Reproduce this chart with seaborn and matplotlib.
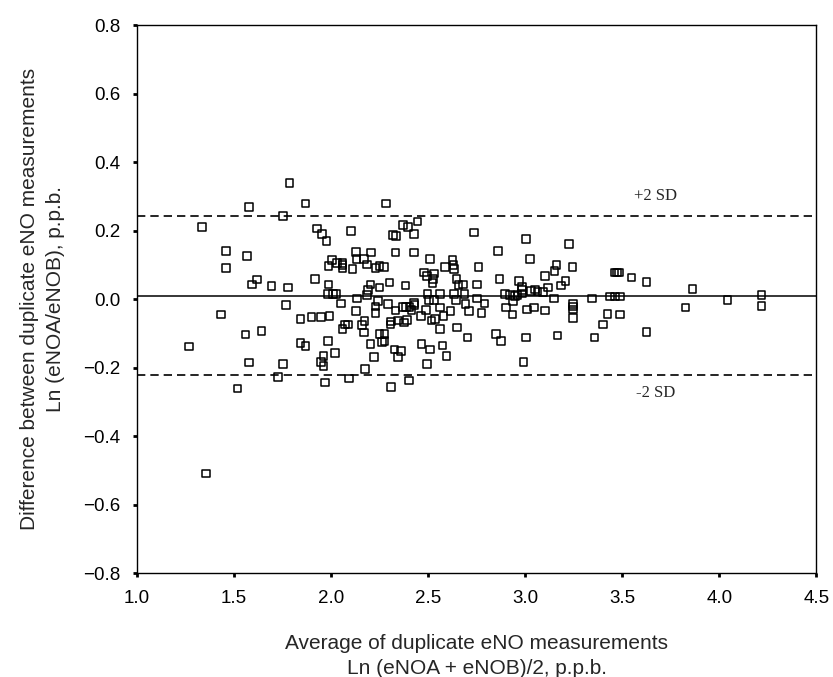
import matplotlib
matplotlib.use("Agg")
import matplotlib.pyplot as plt
import seaborn as sns
import pandas as pd

# Average of duplicate measurements (x) and difference (y)
avg_vals = [
    1.785, 1.867, 1.577, 1.751, 1.336, 1.458, 1.566, 1.458, 1.617, 1.591,
    1.692, 1.778, 1.766, 1.434, 1.842, 1.559, 1.642, 1.267, 1.842, 1.867,
    1.576, 1.751, 1.727, 1.518, 1.355,
    2.284, 1.926, 1.952, 1.977, 2.102, 2.369, 2.395, 2.446, 2.426, 2.318,
    2.335, 2.332, 2.426, 2.127, 2.207, 2.003, 1.986, 2.029, 2.059, 2.059,
    2.059, 2.131, 2.110, 2.170, 2.185, 2.228, 2.250, 2.272, 2.511, 2.477,
    2.494, 2.529, 2.525, 2.523, 2.587, 2.625, 2.630, 2.634, 2.647, 2.656,
    2.680, 1.918, 1.986, 1.983, 2.009, 2.026, 2.202, 2.191, 2.185, 2.250,
    2.301, 2.383, 2.051, 2.134, 2.242, 2.228, 2.228, 2.293, 2.332, 2.369,
    2.386, 2.404, 2.426, 2.429, 2.415, 2.497, 2.560, 2.634, 2.688, 2.505,
    2.531, 2.642, 2.693, 2.127, 2.488, 2.560, 2.616, 1.898, 1.949,
    1.991, 2.462, 2.579, 2.518, 2.536, 2.071, 2.088, 2.059, 2.173, 2.160,
    2.168, 2.310, 2.305, 2.344, 2.375, 2.392, 2.560, 2.650, 2.702, 2.250,
    2.276, 2.262, 2.276, 1.983, 2.202, 1.961, 1.949, 1.961, 2.020, 2.327,
    2.361, 2.344, 2.220, 2.466, 2.511, 2.574, 2.594, 2.493, 2.176, 2.092,
    1.969, 2.310, 2.400,
    2.736, 3.003, 3.226, 2.860, 3.025, 2.760, 3.243, 3.161, 3.150, 3.102,
    2.867, 2.969, 3.208, 3.183, 3.119, 2.752, 2.983, 2.983, 2.983, 3.030,
    3.051, 3.064, 3.093, 3.460, 3.472, 3.482, 2.897, 2.923, 2.948, 2.961,
    2.752, 2.791, 2.710, 2.774, 2.902, 2.937, 2.935, 3.008, 3.045, 3.102,
    3.148, 3.246, 3.246, 3.246, 3.246, 3.343, 3.437, 3.463, 3.489, 3.425,
    3.489, 3.400, 2.850, 2.875, 3.003, 3.167, 3.357, 2.991,
    3.547, 3.624, 3.624, 3.862, 3.826, 4.042, 4.217, 4.217,
]
diff_vals = [
    0.338, 0.279, 0.268, 0.243, 0.211, 0.141, 0.126, 0.091, 0.057, 0.043,
    0.038, 0.034, -0.018, -0.045, -0.059, -0.103, -0.094, -0.139, -0.128, -0.137,
    -0.185, -0.189, -0.228, -0.261, -0.510,
    0.279, 0.206, 0.190, 0.169, 0.199, 0.216, 0.211, 0.226, 0.189, 0.187,
    0.184, 0.136, 0.136, 0.137, 0.136, 0.114, 0.096, 0.106, 0.099, 0.090,
    0.106, 0.116, 0.088, 0.116, 0.101, 0.090, 0.096, 0.093, 0.117, 0.077,
    0.067, 0.075, 0.058, 0.046, 0.094, 0.114, 0.099, 0.087, 0.058, 0.041,
    0.043, 0.058, 0.043, 0.015, 0.015, 0.015, 0.043, 0.026, 0.012, 0.034,
    0.048, 0.039, -0.013, 0.002, -0.006, -0.022, -0.040, -0.015, -0.034, -0.024,
    -0.024, -0.023, -0.011, -0.018, -0.032, 0.014, 0.014, 0.014, 0.014, -0.003,
    -0.003, -0.003, -0.015, -0.035, -0.032, -0.025, -0.035, -0.053, -0.053,
    -0.049, -0.050, -0.050, -0.063, -0.059, -0.074, -0.074, -0.088, -0.064, -0.076,
    -0.098, -0.066, -0.074, -0.063, -0.069, -0.061, -0.088, -0.083, -0.112, -0.102,
    -0.102, -0.125, -0.123, -0.123, -0.131, -0.166, -0.183, -0.196, -0.157, -0.147,
    -0.152, -0.170, -0.170, -0.131, -0.147, -0.136, -0.166, -0.190, -0.204, -0.232,
    -0.244, -0.256, -0.238,
    0.194, 0.175, 0.161, 0.141, 0.117, 0.093, 0.093, 0.099, 0.082, 0.068,
    0.058, 0.053, 0.053, 0.039, 0.034, 0.043, 0.036, 0.026, 0.016, 0.024,
    0.028, 0.022, 0.021, 0.077, 0.077, 0.077, 0.014, 0.012, 0.009, 0.012,
    0.002, -0.013, -0.035, -0.040, -0.025, -0.005, -0.045, -0.030, -0.025, -0.034,
    0.002, -0.015, -0.022, -0.030, -0.055, 0.002, 0.007, 0.007, 0.007, -0.044,
    -0.045, -0.074, -0.102, -0.123, -0.112, -0.107, -0.112, -0.184,
    0.063, 0.049, -0.097, 0.029, -0.025, -0.003, 0.012, -0.020,
]

mean_diff = 0.010
upper_sd = 0.242
lower_sd = -0.222

x_ticks = [1.0, 1.5, 2.0, 2.5, 3.0, 3.5, 4.0, 4.5]
y_ticks = [-0.8, -0.6, -0.4, -0.2, 0.0, 0.2, 0.4, 0.6, 0.8]

df = pd.DataFrame({"avg": avg_vals, "diff": diff_vals})

sns.set_style("ticks")
plt.rcParams["font.family"] = ["Liberation Sans", "DejaVu Sans"]

fig = plt.figure(figsize=(8.33, 6.77), dpi=100)
ax = fig.add_axes([0.1645, 0.1536, 0.8155, 0.8094])

sns.scatterplot(data=df, x="avg", y="diff", marker="s", s=30,
                color="black", linewidth=1.1, ax=ax, zorder=3)
for coll in ax.collections:
    coll.set_facecolor("none")
    coll.set_edgecolor("black")

ax.axhline(mean_diff, color="black", lw=1.1, zorder=2)
ax.axhline(upper_sd, color="black", lw=1.2, ls=(0, (5, 3)), zorder=2)
ax.axhline(lower_sd, color="black", lw=1.2, ls=(0, (5, 3)), zorder=2)

serif = ["Liberation Serif", "DejaVu Serif"]
ax.text(3.67, 0.30, "+2 SD", family=serif, fontsize=12, ha="center", va="center")
ax.text(3.67, -0.275, "-2 SD", family=serif, fontsize=12, ha="center", va="center")

ax.set_xlim(1.0, 4.5)
ax.set_ylim(-0.8, 0.8)
ax.set_xticks(x_ticks)
ax.set_yticks(y_ticks)
ax.set_xticklabels([f"{v:.1f}" for v in x_ticks])
ax.set_yticklabels([f"{v:.1f}".replace("-", "\u2212") for v in y_ticks])
ax.tick_params(axis="both", direction="out", length=3, width=2,
               labelsize=13.5, colors="black")
ax.tick_params(axis="x", pad=9)
ax.tick_params(axis="y", pad=9)

for sp in ax.spines.values():
    sp.set_visible(True)
    sp.set_color("black")
    sp.set_linewidth(1.0)

ax.set_xlabel("Average of duplicate eNO measurements\nLn (eNOA + eNOB)/2, p.p.b.",
              fontsize=15, labelpad=20, linespacing=1.4)
ax.set_ylabel("Difference between duplicate eNO measurements\nLn (eNOA/eNOB), p.p.b.",
              fontsize=15, labelpad=13, linespacing=1.45)

fig.savefig("out.png", dpi=100)
